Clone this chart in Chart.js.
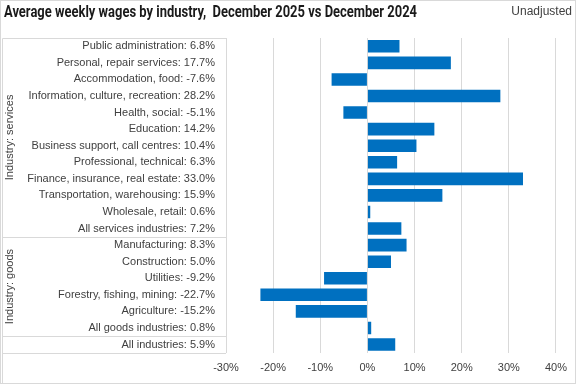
<!DOCTYPE html>
<html>
<head>
<meta charset="utf-8">
<script src="https://cdn.jsdelivr.net/npm/chart.js@4"></script>
<style>
  html, body { margin: 0; padding: 0; background: #fff; }
  #wrap { width: 576px; height: 384px; position: relative; }
</style>
</head>
<body>
<div id="wrap"><canvas id="wageChart" width="576" height="384"></canvas></div>
<script>
// industries, top to bottom
const industries = [
  'Public administration', 'Personal, repair services', 'Accommodation, food',
  'Information, culture, recreation', 'Health, social', 'Education',
  'Business support, call centres', 'Professional, technical',
  'Finance, insurance, real estate', 'Transportation, warehousing',
  'Wholesale, retail', 'All services industries',
  'Manufacturing', 'Construction', 'Utilities', 'Forestry, fishing, mining',
  'Agriculture', 'All goods industries',
  'All industries'
];
// % change Dec 2025 vs Dec 2024
const wageChange = [
  6.8, 17.7, -7.6, 28.2, -5.1, 14.2, 10.4, 6.3, 33.0, 15.9, 0.6, 7.2,
  8.3, 5.0, -9.2, -22.7, -15.2, 0.8,
  5.9
];
// group name, first index, last index
const groups = [
  ['Industry: services', 0, 11],
  ['Industry: goods', 12, 17]
];
const xTicks = [-30, -20, -10, 0, 10, 20, 30, 40];

const labels = industries.map((n, i) => n + ': ' + wageChange[i].toFixed(1) + '%');

const labelFont = "'Liberation Sans', Arial, sans-serif";
const titleText = 'Average weekly wages by industry,  December 2025 vs December 2024';

// title + the box round the category labels
const frame = {
  id: 'frame',
  beforeDraw(chart) {
    const c = chart.ctx;
    const area = chart.chartArea;
    const y = chart.scales.y;
    c.save();
    c.strokeStyle = '#d9d9d9';
    c.lineWidth = 1;
    c.strokeRect(0.5, 0.5, chart.width - 1, chart.height - 1);
    const lx = 2.5;
    const right = Math.round(area.left);
    const top = Math.round(area.top) + 0.5;
    const bot = Math.round(area.bottom) + 0.5;
    c.beginPath();
    c.moveTo(lx, top); c.lineTo(right, top);
    c.moveTo(lx, top); c.lineTo(lx, chart.height);
    groups.forEach(g => {
      const yy = Math.round(y.getPixelForValue(g[2] + 0.5)) + 0.5;
      c.moveTo(lx, yy); c.lineTo(right, yy);
    });
    c.moveTo(lx, bot); c.lineTo(right, bot);
    c.stroke();

    // group names, rotated
    c.fillStyle = '#404040';
    c.font = '11px ' + labelFont;
    c.textAlign = 'center';
    c.textBaseline = 'middle';
    groups.forEach(g => {
      const y0 = g[1] === 0 ? area.top : y.getPixelForValue(g[1] - 0.5);
      const y1 = y.getPixelForValue(g[2] + 0.5);
      c.save();
      c.translate(10, (y0 + y1) / 2);
      c.rotate(-Math.PI / 2);
      c.fillText(g[0], 0, 0);
      c.restore();
    });

    // title, squeezed to the width of the original narrow face
    c.save();
    c.fillStyle = '#1a1a1a';
    c.font = "bold 16px Roboto, 'Liberation Sans', sans-serif";
    c.textAlign = 'left';
    const w = c.measureText(titleText).width;
    c.translate(4, 13);
    c.scale(413 / w, 1);
    c.fillText(titleText, 0, 0);
    c.restore();

    c.fillStyle = '#404040';
    c.font = '12px ' + labelFont;
    c.textAlign = 'right';
    c.fillText('Unadjusted', 572, 12);
    c.restore();
  }
};

new Chart(document.getElementById('wageChart'), {
  type: 'bar',
  data: {
    labels: labels,
    datasets: [{
      data: wageChange,
      backgroundColor: '#0070c0',
      categoryPercentage: 1,
      barPercentage: 0.76
    }]
  },
  options: {
    indexAxis: 'y',
    responsive: false,
    animation: false,
    layout: { padding: { top: 38, right: 19, bottom: 0, left: 0 } },
    plugins: { legend: { display: false }, tooltip: { enabled: false } },
    scales: {
      x: {
        min: -30, max: 40,
        afterBuildTicks: s => { s.ticks = xTicks.map(v => ({ value: v })); },
        grid: { color: '#d9d9d9', drawTicks: false },
        border: { display: false },
        ticks: {
          padding: 9,
          color: '#404040',
          font: { size: 11, family: labelFont },
          callback: v => v + '%'
        }
      },
      y: {
        grid: { display: false, drawTicks: false },
        border: { display: false },
        afterFit: s => { s.width = 226; },
        ticks: {
          padding: 11,
          color: '#404040',
          autoSkip: false,
          font: { size: 11, family: labelFont }
        }
      }
    }
  },
  plugins: [frame]
});
</script>
</body>
</html>
